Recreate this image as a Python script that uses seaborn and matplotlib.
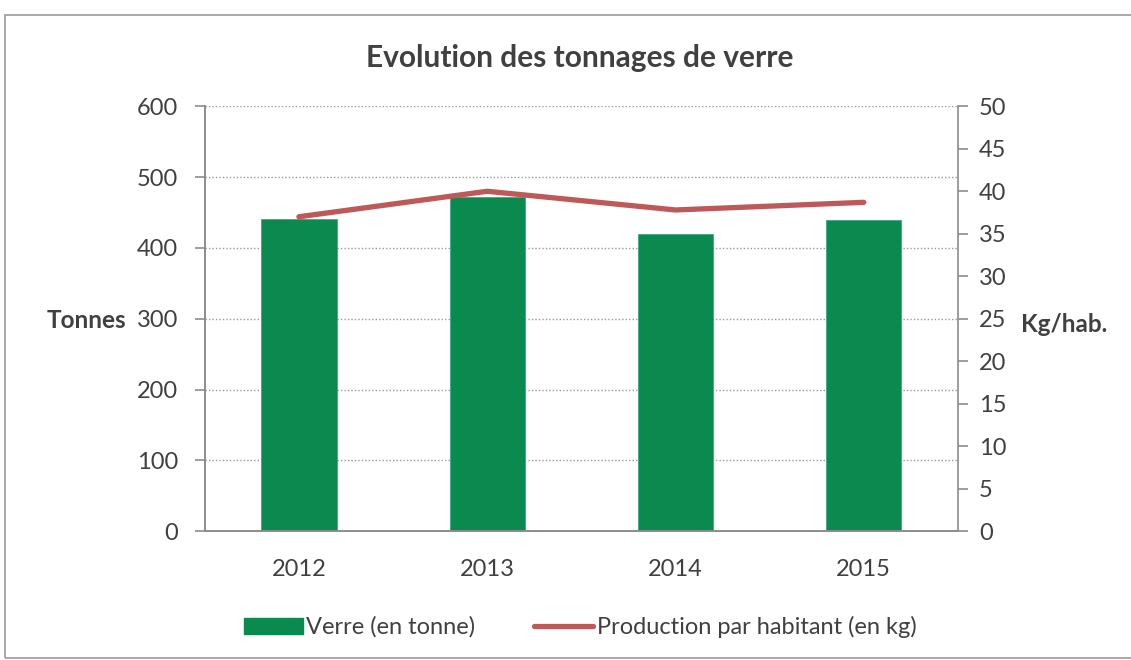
import matplotlib

matplotlib.use("Agg")

import matplotlib.pyplot as plt
import pandas as pd
import seaborn as sns
from matplotlib.lines import Line2D
from matplotlib.patches import Patch, Rectangle

years = ["2012", "2013", "2014", "2015"]
tonnes = [441, 472, 419, 440]
kg_per_hab = [37.0, 40.0, 37.8, 38.7]

green = "#0B8A50"
red = "#BE5859"
grey = "#8C8C8C"
text_col = "#404040"

sns.set_style("white")
plt.rcParams["font.family"] = ["Lato", "DejaVu Sans"]

df = pd.DataFrame({"year": years, "tonnes": tonnes, "kg": kg_per_hab})

fig = plt.figure(figsize=(11.31, 6.6), dpi=100)
ax = fig.add_axes([0.181, 0.195, 0.666, 0.644])

sns.barplot(data=df, x="year", y="tonnes", color=green, width=0.4,
            saturation=1, edgecolor="#3AA88A", linewidth=0.6, ax=ax)
ax.set_ylim(0, 600)
ax.set_yticks(range(0, 601, 100))
ax.yaxis.grid(True, linestyle=(0, (1, 1.5)), color="#9A9A9A", linewidth=1)
ax.set_axisbelow(True)
ax.set_xlim(-0.5, 3.5)

ax2 = ax.twinx()
sns.pointplot(data=df, x="year", y="kg", color=red, markers="",
              linewidth=3.8, ax=ax2)
ax2.set_ylim(0, 50)
ax2.set_yticks(range(0, 51, 5))
ax2.set_xlim(-0.5, 3.5)

for a in (ax, ax2):
    a.set_xlabel("")
    a.set_ylabel("")
    for s in a.spines.values():
        s.set_color(grey)
        s.set_linewidth(1.2)
    a.spines["top"].set_visible(False)
    a.tick_params(axis="y", labelsize=17, labelcolor=text_col, length=7,
                  width=1.2, color=grey, direction="out")

ax.spines["right"].set_visible(False)
ax.tick_params(axis="y", pad=12)
ax2.tick_params(axis="y", pad=8)

# category labels centred, tick marks between categories
ax.set_xticks(range(len(years)))
ax.set_xticklabels(years)
ax.set_xticks([i - 0.5 for i in range(len(years) + 1)], minor=True)
ax.tick_params(axis="x", which="major", length=0, pad=20, labelsize=17,
               labelcolor=text_col)
ax.tick_params(axis="x", which="minor", length=7, width=1.2, color=grey,
               direction="out")

fig.text(0.041, 0.515, "Tonnes", fontsize=17.5, fontweight="bold",
         color=text_col, ha="left", va="center")
fig.text(0.903, 0.508, "Kg/hab.", fontsize=17.5, fontweight="bold",
         color=text_col, ha="left", va="center")
fig.text(0.513, 0.912, "Evolution des tonnages de verre", fontsize=21.5,
         fontweight="bold", color=text_col, ha="center", va="center")

handles = [Patch(facecolor=green, edgecolor=green),
           Line2D([0], [0], color=red, linewidth=3.8)]
fig.legend(handles, ["Verre (en tonne)", "Production par habitant (en kg)"],
           loc="center", bbox_to_anchor=(0.513, 0.05), ncol=2, frameon=False,
           fontsize=17, handlelength=2.5, handletextpad=0.15, columnspacing=2.5,
           labelcolor=text_col)

fig.add_artist(Rectangle((0.004, 0.003), 1.2, 0.974, transform=fig.transFigure,
                         fill=False, edgecolor="#9A9A9A", linewidth=1.2))

fig.savefig("out.png", dpi=100)
plt.close(fig)
